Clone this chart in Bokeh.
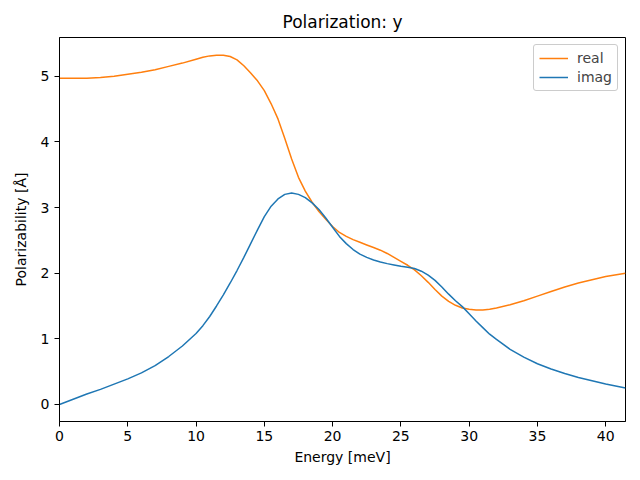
from bokeh.plotting import figure
from bokeh.models import Range1d, Legend, LegendItem, FixedTicker
from bokeh.embed import file_html
from bokeh.resources import INLINE

energy = [0, 1, 2, 3, 4, 5, 6, 7, 8, 9, 10, 10.5, 11, 11.5, 12, 12.5, 13, 13.5,
          14, 14.5, 15, 15.5, 16, 16.5, 17, 17.5, 18, 18.5, 19, 19.5, 20, 20.5,
          21, 21.5, 22, 22.5, 23, 23.5, 24, 24.5, 25, 25.5, 26, 26.5, 27, 27.5,
          28, 28.5, 29, 29.5, 30, 30.5, 31, 31.5, 32, 33, 34, 35, 36, 37, 38,
          39, 40, 41.45]
real = [4.97, 4.97, 4.97, 4.98, 5.0, 5.03, 5.06, 5.1, 5.15, 5.2, 5.26, 5.29,
        5.31, 5.32, 5.32, 5.30, 5.25, 5.16, 5.05, 4.93, 4.78, 4.58, 4.35, 4.05,
        3.74, 3.46, 3.25, 3.08, 2.94, 2.82, 2.71, 2.62, 2.56, 2.51, 2.47, 2.43,
        2.39, 2.35, 2.30, 2.24, 2.18, 2.12, 2.05, 1.96, 1.86, 1.75, 1.65, 1.57,
        1.51, 1.47, 1.45, 1.44, 1.44, 1.45, 1.47, 1.52, 1.58, 1.65, 1.72, 1.79,
        1.85, 1.90, 1.95, 2.0]
imag = [0.0, 0.08, 0.16, 0.23, 0.31, 0.39, 0.48, 0.59, 0.73, 0.89, 1.08, 1.2,
        1.34, 1.5, 1.67, 1.85, 2.04, 2.24, 2.45, 2.66, 2.86, 3.02, 3.13, 3.20,
        3.22, 3.20, 3.15, 3.07, 2.97, 2.84, 2.70, 2.56, 2.45, 2.36, 2.29, 2.24,
        2.20, 2.17, 2.145, 2.125, 2.105, 2.09, 2.07, 2.03, 1.97, 1.89, 1.79,
        1.68, 1.58, 1.49, 1.38, 1.27, 1.17, 1.07, 0.99, 0.84, 0.72, 0.62, 0.54,
        0.47, 0.41, 0.36, 0.31, 0.25]

p = figure(width=640, height=480, output_backend="svg", toolbar_location=None,
           x_range=Range1d(0, 41.45), y_range=Range1d(-0.26, 5.59),
           title="Polarization: y")
p.min_border_left = 59
p.min_border_right = 15
p.min_border_top = 37
p.min_border_bottom = 59
p.background_fill_color = "white"
p.border_fill_color = "white"
p.outline_line_color = "black"
p.outline_line_alpha = 1
p.outline_line_width = 1
p.xgrid.visible = False
p.ygrid.visible = False

p.title.align = "center"
p.title.text_font = "DejaVu Sans"
p.title.text_font_size = "17px"
p.title.text_font_style = "normal"
p.title.text_color = "black"
p.title.standoff = 12

for ax in (p.xaxis[0], p.yaxis[0]):
    ax.major_label_text_font = "DejaVu Sans"
    ax.major_label_text_font_size = "14px"
    ax.major_label_text_color = "black"
    ax.axis_label_text_font = "DejaVu Sans"
    ax.axis_label_text_font_size = "14px"
    ax.axis_label_text_font_style = "normal"
    ax.axis_label_text_color = "black"
    ax.minor_tick_line_color = None
    ax.major_tick_out = 5
    ax.major_tick_in = 0
    ax.axis_line_color = "black"
    ax.major_tick_line_color = "black"

p.xaxis.ticker = FixedTicker(ticks=[0, 5, 10, 15, 20, 25, 30, 35, 40])
p.yaxis.ticker = FixedTicker(ticks=[0, 1, 2, 3, 4, 5])
p.xaxis.axis_label = "Energy [meV]"
p.yaxis.axis_label = "Polarizability [Å]"
p.xaxis.axis_label_standoff = 5
p.yaxis.axis_label_standoff = 9
p.yaxis.major_label_standoff = 5
p.xaxis.major_label_standoff = 4

r1 = p.line(energy, real, line_color="#ff7f0e", line_width=1.5)
r2 = p.line(energy, imag, line_color="#1f77b4", line_width=1.5)

legend = Legend(items=[LegendItem(label="real", renderers=[r1]),
                       LegendItem(label="imag", renderers=[r2])],
                location="top_right")
legend.label_text_font = "DejaVu Sans"
legend.label_text_font_size = "14px"
legend.border_line_color = "#cccccc"
legend.border_line_alpha = 1
legend.border_radius = 3
legend.glyph_width = 29
legend.glyph_height = 14
legend.label_standoff = 9
legend.spacing = 3
legend.padding = 5
legend.margin = 7
p.add_layout(legend)

open("out.html", "w").write(file_html(p, INLINE))
